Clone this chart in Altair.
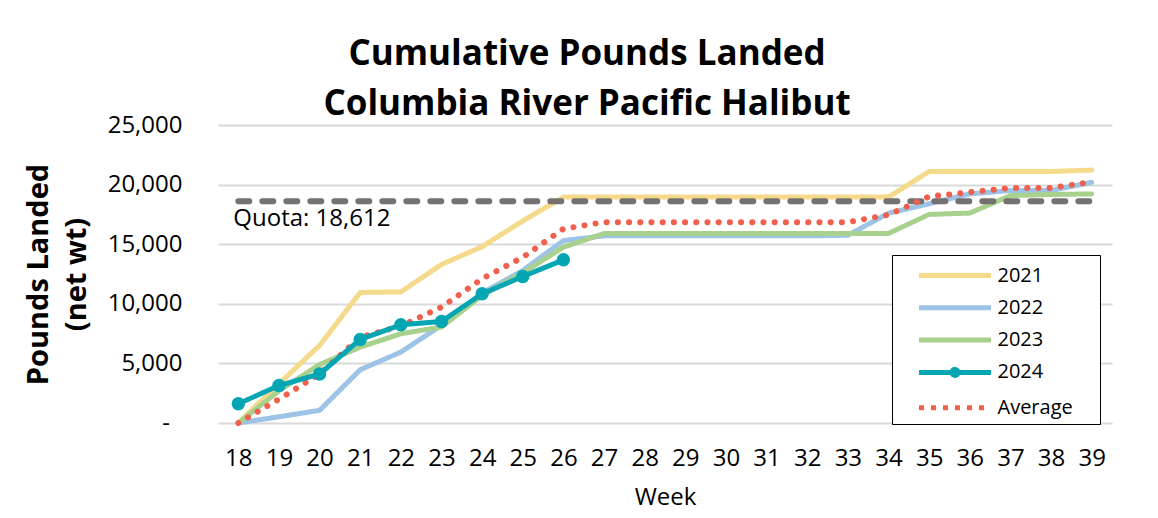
import altair as alt
import pandas as pd

weeks = list(range(18, 40))
y2021 = [0, 3300, 6500, 10950, 11000, 13300, 14800, 16950, 18950, 18950, 18950,
         18950, 18950, 18950, 18950, 18950, 18950, 21100, 21100, 21100, 21100, 21220]
y2022 = [0, 520, 1060, 4470, 5950, 8200, 10900, 12800, 15300, 15700, 15700,
         15700, 15700, 15700, 15700, 15750, 17600, 18390, 19220, 19500, 19500, 20190]
y2023 = [0, 2700, 4900, 6370, 7490, 8050, 10700, 12600, 14750, 15900, 15900,
         15900, 15900, 15900, 15900, 15900, 15900, 17500, 17610, 19080, 19170, 19220]
y_avg = [0, 2000, 4110, 7200, 8130, 9720, 12100, 13900, 16290, 16850, 16850,
         16850, 16850, 16850, 16850, 16850, 17470, 19000, 19360, 19720, 19720, 20220]
weeks_2024 = list(range(18, 27))
y2024 = [1610, 3140, 4110, 7010, 8240, 8520, 10840, 12290, 13690]
quota = 18612

series_names = ["2021", "2022", "2023", "2024", "Average"]
series_colors = ["#F5DA8C", "#9DC3E6", "#A9D18E", "#04A6B4", "#F0604C"]
legend_dashes = [[1, 0], [1, 0], [1, 0], [1, 0], [5, 7]]
LINE_SYM = "M-3,0H3"
DOT_LINE_SYM = "M-3,0H3M0.25,0A0.25,0.25,0,1,1,-0.25,0A0.25,0.25,0,1,1,0.25,0Z"
legend_shapes = [LINE_SYM, LINE_SYM, LINE_SYM, DOT_LINE_SYM, LINE_SYM]
quota_color = "#767171"
FONT = "Open Sans"
NB = "\u00a0"
ZW = "\u200b"


def long(name, wk, vals):
    return pd.DataFrame({"week": wk, "series": name, "value": vals})


df_years = pd.concat([long("2021", weeks, y2021), long("2022", weeks, y2022),
                      long("2023", weeks, y2023)])
df_avg = long("Average", weeks, y_avg)
df_2024 = long("2024", weeks_2024, y2024)
df_empty = df_2024.iloc[0:0]
df_quota = pd.DataFrame({"week": weeks, "value": [quota] * len(weeks)})
df_qlabel = pd.DataFrame({"week": [weeks[0]], "value": [quota],
                          "label": [f"Quota: {quota:,}"]})

color_scale = alt.Scale(domain=series_names, range=series_colors)
dash_scale = alt.Scale(domain=series_names, range=legend_dashes)
shape_scale = alt.Scale(domain=series_names, range=legend_shapes)

legend = alt.Legend(
    title=None, orient="none", legendX=674, legendY=130,
    symbolType=LINE_SYM, symbolSize=576, symbolStrokeWidth=5, symbolOpacity=1,
    symbolOffset=42.5, labelOffset=28, rowPadding=7.3, padding=6,
    labelFont=FONT, labelFontSize=20, labelColor="black",
    strokeColor="black", fillColor="white",
    labelExpr=f"datum.label + '{NB * 4}{ZW}'",
)

x_enc = alt.X("week:O", scale=alt.Scale(type="point", padding=0.5),
              axis=alt.Axis(title="Week", labelAngle=0, labelFont=FONT,
                            labelFontSize=24, labelColor="black", labelPadding=23,
                            ticks=False, domain=False, grid=False,
                            titleFont=FONT, titleFontSize=24, titleFontWeight="normal",
                            titleColor="black", titleY=81, titleBaseline="alphabetic"))
y_enc = alt.Y("value:Q", scale=alt.Scale(domain=[0, 25000], nice=False),
              axis=alt.Axis(title=["Pounds Landed", "(net wt)"],
                            values=[0, 5000, 10000, 15000, 20000, 25000],
                            format=",.0f",
                            labelExpr=f"datum.value == 0 ? '-{NB * 2}{ZW}' : datum.label",
                            labelFont=FONT, labelFontSize=24, labelColor="black",
                            labelPadding=36, ticks=False, tickSize=0, domain=False,
                            grid=True, gridColor="#D9D9D9", gridWidth=2,
                            titleFont=FONT, titleFontSize=29, titleFontWeight="bold",
                            titleColor="black", titleAngle=-90, titleX=-171, titleY=149,
                            titleAlign="center", titleBaseline="alphabetic",
                            titleLineHeight=38))

color_enc = alt.Color("series:N", scale=color_scale, legend=legend)
dash_enc = alt.StrokeDash("series:N", scale=dash_scale, legend=legend)
shape_enc = alt.Shape("series:N", scale=shape_scale, legend=legend)

years = alt.Chart(df_years).mark_line(strokeWidth=5, strokeCap="round", strokeJoin="round").encode(
    x=x_enc, y=y_enc, color=color_enc, strokeDash=dash_enc, detail="series:N")

# carries only the legend's symbol shapes (no rows drawn)
legend_shapes_layer = alt.Chart(df_empty).mark_point(filled=True, opacity=1).encode(
    x="week:O", y="value:Q", color=color_enc, shape=shape_enc)

quota_line = alt.Chart(df_quota).mark_line(
    strokeWidth=6, strokeCap="round", strokeDash=[11, 13], color=quota_color
).encode(x="week:O", y="value:Q")

quota_text = alt.Chart(df_qlabel).mark_text(
    align="left", baseline="middle", dx=-5, dy=18, font=FONT, fontSize=24, color="black"
).encode(x="week:O", y="value:Q", text="label:N")

avg_line = alt.Chart(df_avg).mark_line(
    strokeWidth=6, strokeCap="round", strokeDash=[0.1, 11.1]
).encode(x="week:O", y="value:Q", color=color_enc)

line_2024 = alt.Chart(df_2024).mark_line(strokeWidth=5, strokeCap="round", strokeJoin="round").encode(
    x="week:O", y="value:Q", color=color_enc)

pts_2024 = alt.Chart(df_2024).mark_point(filled=True, size=180, opacity=1, color="#04A6B4").encode(
    x="week:O", y="value:Q")

chart = alt.layer(years, legend_shapes_layer, quota_line, avg_line, line_2024, pts_2024,
                  quota_text).properties(
    width=894, height=298,
    autosize=alt.AutoSizeParams(type="none"),
    padding={"left": 210, "top": 117, "right": 38, "bottom": 87},
    title=alt.TitleParams(
        text=["Cumulative Pounds Landed", "Columbia River Pacific Halibut"],
        font=FONT, fontSize=35, fontWeight="bold", color="black",
        anchor="middle", dx=-78, dy=17, lineHeight=50, offset=8),
    background="white",
).configure_view(stroke=None)

chart.save("out.html", embed_options={"renderer": "svg", "actions": False})
